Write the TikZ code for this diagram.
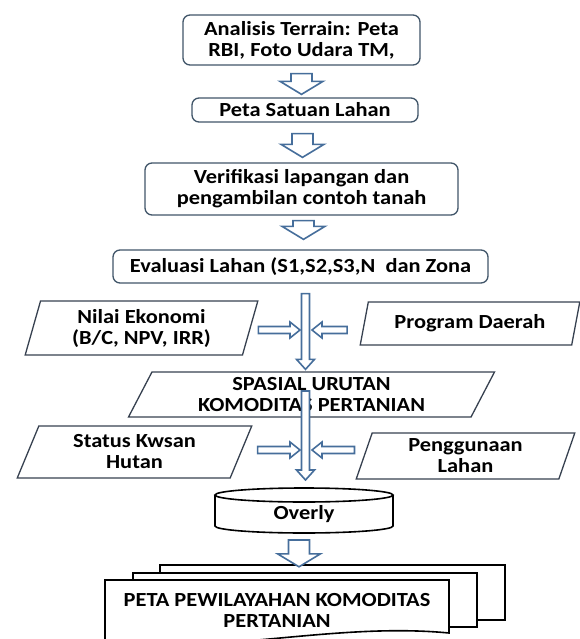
\documentclass[tikz,border=0pt]{standalone}
\usepackage{fontspec}
\setmainfont{Carlito}[FakeStretch=1.12]
\usetikzlibrary{shapes.geometric,calc}

\definecolor{garisbox}{RGB}{65,85,105}
\definecolor{garispanah}{RGB}{70,110,155}
\definecolor{garisjajar}{RGB}{55,65,80}

% panah blok ke bawah: dari, ke, batang/2, kepala/2, panjang kepala
\newcommand{\panahturun}[5]{%
  \draw[panah] let \p1=(#1), \p2=(#2) in
    (\x1-#3pt,\y1) -- (\x1+#3pt,\y1) -- (\x1+#3pt,\y2+#5pt) -- (\x1+#4pt,\y2+#5pt)
    -- (\x1,\y2) -- (\x1-#4pt,\y2+#5pt) -- (\x1-#3pt,\y2+#5pt) -- cycle;}
% panah tipis ke samping: dari, ujung
\newcommand{\panahsamping}[2]{%
  \draw[panah] let \p1=(#1), \p2=(#2), \n1={sign(\x2-\x1)} in
    (\x1,\y2-3.5pt) -- ({\x2-(\n1)*10pt},\y2-3.5pt) -- ({\x2-(\n1)*10pt},\y2-8pt)
    -- (\x2,\y2) -- ({\x2-(\n1)*10pt},\y2+8pt) -- ({\x2-(\n1)*10pt},\y2+3.5pt)
    -- (\x1,\y2+3.5pt) -- cycle;}

\tikzset{
  kotak/.style={draw=garisbox, line width=1.3pt, rounded corners=7pt, fill=white,
    align=center, inner sep=0pt},
  jajar/.style 2 args={trapezium, trapezium stretches=true, trapezium left angle=#1,
    trapezium right angle=#2, draw=garisjajar, line width=1.3pt, fill=white,
    align=center, inner sep=0pt},
  panah/.style={draw=garispanah, line width=1.6pt, fill=white},
  lembar/.style={draw=black, line width=1.6pt, fill=white},
  teks/.style={align=center, inner sep=0pt}
}

\begin{document}
\begin{tikzpicture}[x=1pt, y=-1pt, font=\fontsize{20}{21}\selectfont\bfseries]
    \useasboundingbox (0,0) rectangle (579,639);

    % Kotak bertahap
    \node[kotak, minimum width=237pt, minimum height=50pt] (analisis) at (301.5,40) {Analisis Terrain: Peta\\RBI, Foto Udara TM,};
    \node[kotak, minimum width=226pt, minimum height=24pt] (satuan) at (305,110) {Peta Satuan Lahan};
    \node[kotak, minimum width=313pt, minimum height=52pt] (verifikasi) at (301.5,189) {Verifikasi lapangan dan\\pengambilan contoh tanah};
    \node[kotak, minimum width=375pt, minimum height=33pt] (evaluasi) at (300.5,266.5) {Evaluasi Lahan (S1,S2,S3,N\ \ dan Zona};

    % Panah blok
    \panahturun{$(analisis.south)+(0,8)$}{$(satuan.north)+(0,-3)$}{10.5}{21.5}{13}
    \panahturun{$(satuan.south)+(-2.5,11)$}{$(verifikasi.north)+(0,-5)$}{10.5}{21.5}{13}
    \panahturun{$(verifikasi.south)+(2,5)$}{$(evaluasi.north)+(0,-10)$}{10.5}{21.5}{13}

    % Masukan baris pertama
    \node[jajar={74.5}{105.5}, minimum width=233pt, minimum height=54pt] (nilai) at (141.5,328) {Nilai Ekonomi\\(B/C, NPV, IRR)};
    \node[jajar={71}{109}, minimum width=220pt, minimum height=43pt] (program) at (470,323.5) {Program Daerah};
    \coordinate (temu1) at (305.5,330);

    % Spasial
    \node[jajar={64}{116}, minimum width=367pt, minimum height=45pt] (spasial) at (311.5,394.5) {SPASIAL URUTAN\\KOMODITAS PERTANIAN};
    \panahturun{$(evaluasi.south)+(5,10)$}{$(spasial.north)+(0,-2)$}{4}{9}{10}
    \panahsamping{$(nilai.east)+(7.5,0)$}{$(temu1)+(-5.5,0)$}
    \panahsamping{$(program.west)+(-16.5,0)$}{$(temu1)+(6.5,0)$}

    % Masukan baris kedua
    \node[jajar={68}{112}, minimum width=235pt, minimum height=52pt] (status) at (134.5,452) {Status Kwsan\\Hutan};
    \node[jajar={74}{106}, minimum width=219pt, minimum height=46pt] (penggunaan) at (465.5,456) {Penggunaan\\Lahan};
    \coordinate (temu2) at (305.5,450);

    % Silinder Overly
    \draw[lembar] (215,495) -- (215,526) arc[start angle=180, end angle=0, x radius=89, y radius=7] -- (393,495);
    \draw[lembar] (304,495) ellipse [x radius=89, y radius=7];
    \coordinate (silatas) at (304,488);
    \coordinate (silbawah) at (304,533);
    \node[teks] (overly) at (304,514) {Overly};

    \panahturun{$(spasial.center)+(-6,-3.5)$}{$(silatas)+(0,-8)$}{4}{9}{10}
    \panahsamping{$(status.east)+(16,0)$}{$(temu2)+(-5.5,0)$}
    \panahsamping{$(penggunaan.west)+(-9,0)$}{$(temu2)+(6.5,0)$}

    % Dokumen bertumpuk
    \draw[lembar] (160,565) rectangle (505,620);
    \draw[lembar] (133,573) rectangle (477,627);
    \draw[lembar] (105,580) -- (449,580) -- (449,633) .. controls (335,622) and (220,655) .. (105,642) -- cycle;
    \node[teks, minimum width=344pt, minimum height=60pt] (peta) at (277,610) {PETA PEWILAYAHAN KOMODITAS\\PERTANIAN};

    \panahturun{$(silbawah)+(-5,7)$}{$(peta.north)+(0,-13)$}{10.5}{21.5}{13}

\end{tikzpicture}
\end{document}
